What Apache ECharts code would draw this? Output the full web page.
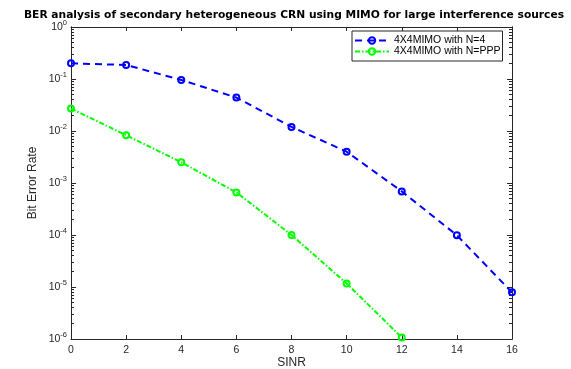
<!DOCTYPE html>
<html>
<head>
<meta charset="utf-8">
<script src="https://cdn.jsdelivr.net/npm/echarts@6/dist/echarts.min.js"></script>
<style>
  html, body { margin: 0; padding: 0; background: #fff; }
  #chart { width: 571px; height: 369px; }
</style>
</head>
<body>
<div id="chart"></div>
<script>
const sinr = [0, 2, 4, 6, 8, 10, 12, 14, 16];
const berN4 = [0.20, 0.186, 0.096, 0.044, 0.012, 0.0040, 6.9e-4, 9.9e-5, 7.9e-6];
const sinrPPP = [0, 2, 4, 6, 8, 10, 12];
const berPPP = [0.027, 0.0083, 0.0025, 6.6e-4, 1.0e-4, 1.17e-5, 1.07e-6];
const seriesNames = ['4X4MIMO with N=4', '4X4MIMO with N=PPP'];

// minor ticks for the log axis: 2..9 x 10^k
const minorTicks = [];
for (let k = -6; k < 0; k++) {
  for (let m = 2; m <= 9; m++) minorTicks.push(m * Math.pow(10, k));
}

const axisColor = '#262626';
const font = 'Liberation Sans, Arial, sans-serif';

const logLabel = (v) => {
  const e = Math.round(Math.log10(v));
  return '{a|10}{e|' + e + '}';
};

const chart = echarts.init(document.getElementById('chart'));

const logBase = {
  type: 'log',
  logBase: 10,
  min: 1e-6,
  max: 1,
  splitLine: { show: false },
  axisLine: { lineStyle: { color: axisColor, width: 1 } }
};

chart.setOption({
  animation: false,
  backgroundColor: '#fff',
  title: {
    text: 'BER analysis of secondary heterogeneous CRN using MIMO for large interference sources',
    left: 289,
    textAlign: 'center',
    top: 5,
    textStyle: { fontFamily: 'DejaVu Sans', fontSize: 10.7, fontWeight: 'bold', color: '#000' }
  },
  grid: { left: 71, right: 59, top: 27, bottom: 30, outerBoundsMode: 'none' },
  legend: {
    left: 352,
    top: 31,
    orient: 'vertical',
    itemWidth: 34,
    itemHeight: 8,
    itemGap: 0,
    padding: [4, 2, 4, 2],
    borderColor: axisColor,
    borderWidth: 1,
    borderRadius: 0,
    backgroundColor: '#fff',
    textStyle: { fontFamily: font, fontSize: 10.5, lineHeight: 10, color: '#000' },
    data: seriesNames
  },
  xAxis: [
    {
      type: 'value',
      min: 0,
      max: 16,
      interval: 2,
      name: 'SINR',
      nameLocation: 'middle',
      nameGap: 18,
      nameMoveOverlap: false,
      nameTextStyle: { fontFamily: font, fontSize: 12, color: axisColor },
      axisLine: { lineStyle: { color: axisColor } },
      axisTick: { inside: true, length: 4, lineStyle: { color: axisColor } },
      axisLabel: { fontFamily: font, fontSize: 10.5, color: axisColor, margin: 6 },
      splitLine: { show: false }
    },
    {
      type: 'value',
      position: 'top',
      min: 0,
      max: 16,
      interval: 2,
      axisLine: { lineStyle: { color: axisColor } },
      axisTick: { inside: true, length: 4, lineStyle: { color: axisColor } },
      axisLabel: { show: false },
      splitLine: { show: false }
    }
  ],
  yAxis: [
    Object.assign({}, logBase, {
      position: 'left',
      name: 'Bit Error Rate',
      nameLocation: 'middle',
      nameGap: 32,
      nameRotate: 90,
      nameMoveOverlap: false,
      nameTextStyle: { fontFamily: font, fontSize: 12, color: axisColor },
      axisTick: { inside: true, length: 5, lineStyle: { color: axisColor } },
      axisLabel: {
        formatter: logLabel,
        margin: 4,
        color: axisColor,
        rich: {
          a: { fontFamily: font, fontSize: 10.5, color: axisColor },
          e: { fontFamily: font, fontSize: 7.5, color: axisColor, padding: [0, 0, 8, 0] }
        }
      }
    }),
    Object.assign({}, logBase, {
      position: 'left',
      axisTick: { inside: true, length: 3, customValues: minorTicks, lineStyle: { color: axisColor } },
      axisLabel: { show: false }
    }),
    Object.assign({}, logBase, {
      position: 'right',
      axisTick: { inside: true, length: 5, lineStyle: { color: axisColor } },
      axisLabel: { show: false }
    }),
    Object.assign({}, logBase, {
      position: 'right',
      axisTick: { inside: true, length: 3, customValues: minorTicks, lineStyle: { color: axisColor } },
      axisLabel: { show: false }
    })
  ],
  series: [
    {
      name: seriesNames[0],
      type: 'line',
      data: sinr.map((x, i) => [x, berN4[i]]),
      symbol: 'circle',
      symbolSize: 6,
      itemStyle: { color: 'rgba(0,0,0,0)', borderColor: '#0000ff', borderWidth: 2 },
      lineStyle: { color: '#0000ff', width: 2, type: [7, 5] },
      z: 3
    },
    {
      name: seriesNames[1],
      type: 'line',
      data: sinrPPP.map((x, i) => [x, berPPP[i]]),
      symbol: 'circle',
      symbolSize: 6,
      itemStyle: { color: 'rgba(0,0,0,0)', borderColor: '#00ff00', borderWidth: 2 },
      lineStyle: { color: '#00ff00', width: 2, type: [5, 2, 1.5, 2] },
      z: 2
    }
  ]
});
</script>
</body>
</html>
